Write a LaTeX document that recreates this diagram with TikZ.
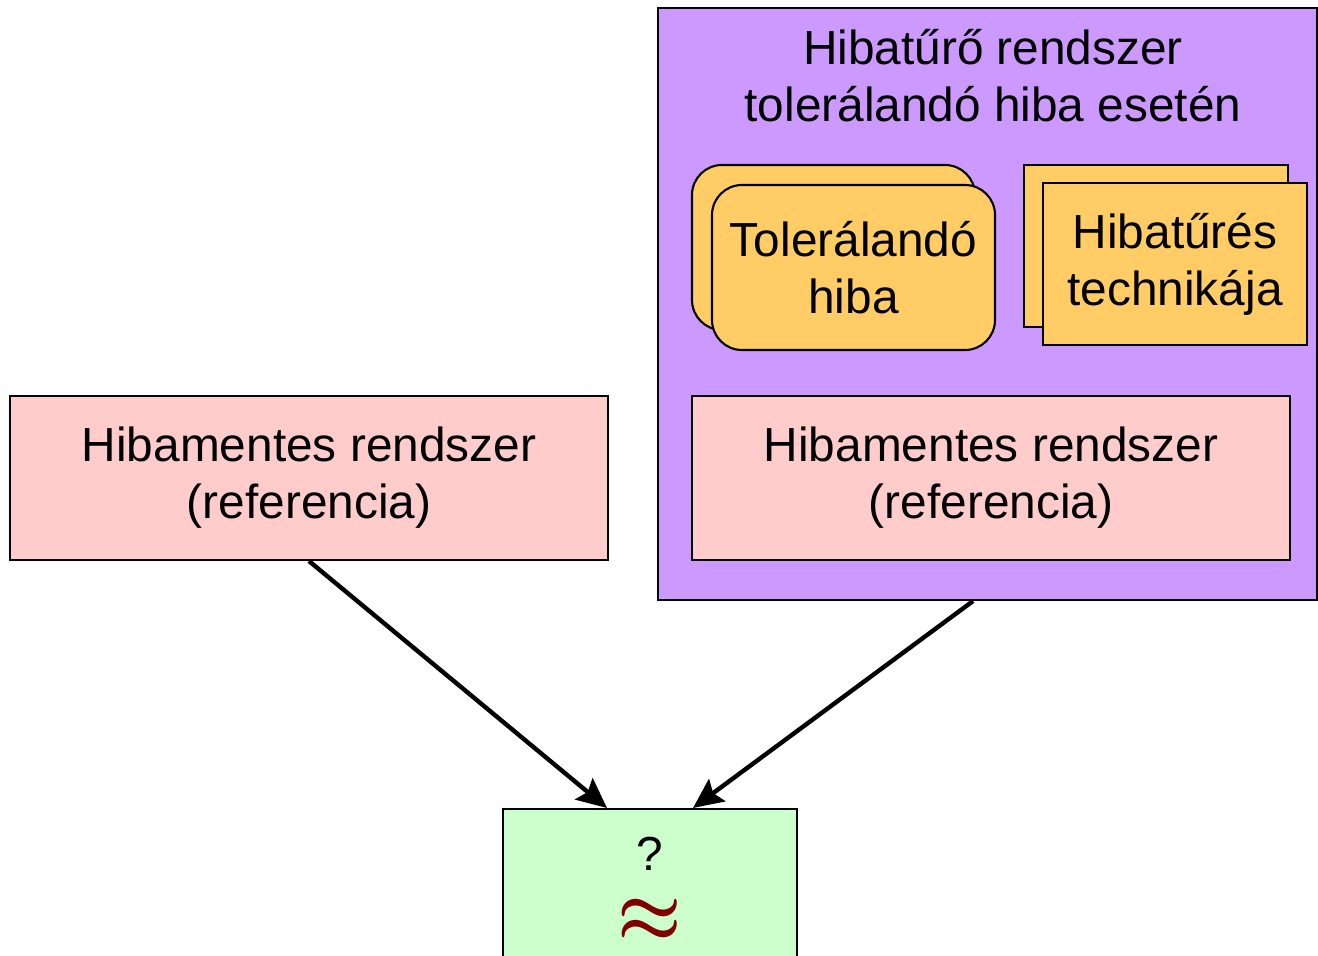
\documentclass[tikz,border=0pt]{standalone}
\usepackage{fontspec}
\usepackage{graphicx}
\setmainfont{Liberation Sans}
\usetikzlibrary{calc,arrows.meta}
\definecolor{refpink}{RGB}{255,204,204}
\definecolor{ftpurple}{RGB}{204,153,255}
\definecolor{errgold}{RGB}{255,204,102}
\definecolor{resgreen}{RGB}{204,255,204}
\definecolor{approxred}{RGB}{128,0,0}
\begin{document}
\begin{tikzpicture}[
      txt/.style={font=\fontsize{27.2}{32.4}\selectfont, align=center},
      refbox/.style={txt, draw, line width=1.2pt, fill=refpink, minimum width=11.96cm, minimum height=3.28cm},
      ftbox/.style={draw, line width=1.2pt, fill=ftpurple, minimum width=13.18cm, minimum height=11.84cm},
      errbox/.style={txt, draw, line width=1.2pt, fill=errgold, rounded corners=0.6cm, minimum width=5.66cm, minimum height=3.3cm},
      techbox/.style={txt, draw, line width=1.2pt, fill=errgold, minimum width=5.28cm, minimum height=3.24cm},
      result/.style={draw, line width=1.2pt, fill=resgreen, minimum width=5.88cm, minimum height=3.2cm},
      conn/.style={line width=2.5pt, -{Stealth[length=0.6cm, width=0.55cm, inset=0.1cm]}}
    ]
      \clip (0,0) rectangle (26.36,-19.12);
      \useasboundingbox (0,0) rectangle (26.36,-19.12);
      \node[refbox] (ref) at (6.18,-9.56) {Hibamentes rendszer\\(referencia)};
      \node[ftbox] (ft) at (19.75,-6.08) {};
      \node[txt] (fttitle) at (19.86,-1.52) {Hibatűrő rendszer\\tolerálandó hiba esetén};
      % stacked cards
      \node[errbox] (errback) at (16.67,-4.95) {};
      \node[errbox] (err) at (17.07,-5.35) {Tolerálandó\\hiba};
      \node[techbox] (techback) at (23.12,-4.92) {};
      \node[techbox] (tech) at (23.5,-5.28) {Hibatűrés\\technikája};
      \node[refbox] (ftref) at (19.82,-9.56) {Hibamentes rendszer\\(referencia)};
      \node[result, anchor=north] (res) at (13.0,-16.16) {};
      \node[txt, inner sep=0pt] (quest) at (13.0,-17.08) {?};
      \node[txt, inner sep=0pt, text=approxred] (approx) at (13.0,-18.42) {{\boldmath\scalebox{1.65}[1.8]{$\approx$}}};
      \coordinate (resin1) at ($(res.north)+(-0.86,0)$);
      \coordinate (resin2) at ($(res.north)+(0.86,0)$);
      \draw[conn] (ref.south) -- (resin1);
      \draw[conn] ($(ft.south)+(-0.29,0)$) -- (resin2);
    \end{tikzpicture}
\end{document}
